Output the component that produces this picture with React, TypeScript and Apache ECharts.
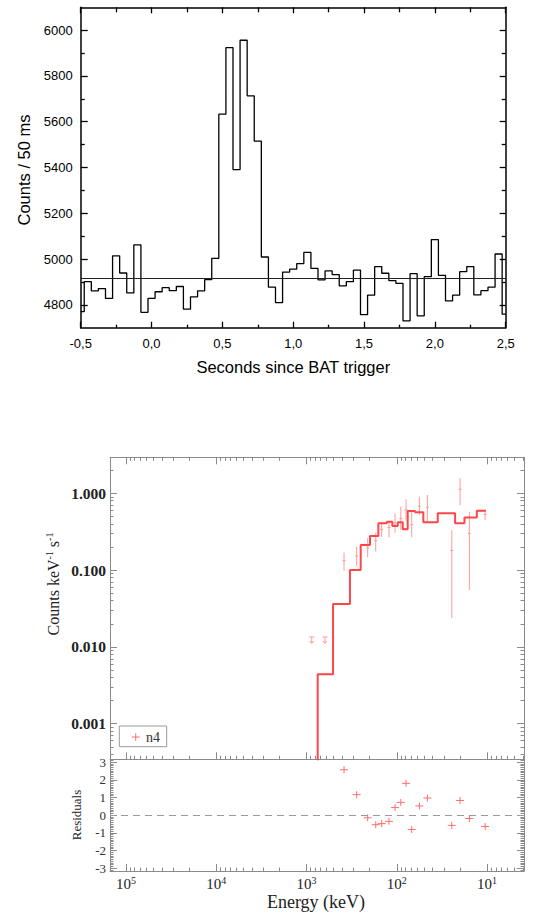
import React, { useEffect, useRef } from 'react';
import * as echarts from 'echarts';

// ---------------- Top panel: BAT light curve ----------------
const T_MIN = -0.5;
const T_MAX = 2.5;
const BIN_START = -0.475; // first full 50 ms bin
const BIN_WIDTH = 0.05;
// counts per 50 ms, first entry is the partial bin [-0.5, -0.475], last is [2.475, 2.5]
const COUNTS = [
  4770, 4901, 4861, 4871, 4828, 5014, 4939, 4852, 5062, 4767,
  4828, 4857, 4875, 4862, 4880, 4781, 4835, 4861, 4910, 5003,
  5633, 5924, 5391, 5956, 5713, 5515, 5009, 4877, 4810, 4943,
  4956, 4980, 5029, 4959, 4909, 4948, 4932, 4883, 4901, 4952,
  4757, 4842, 4967, 4938, 4906, 4894, 4730, 4936, 4752, 4923,
  5085, 4929, 4817, 4842, 4945, 4967, 4843, 4862, 4877, 5022,
  4759,
];
const BACKGROUND_LEVEL = 4915;
const LC_Y_MIN = 4700;
const LC_Y_MAX = 6100;
const LC_X_TICKS = [-0.5, 0, 0.5, 1, 1.5, 2, 2.5];
const LC_X_MINOR = [-0.25, 0.25, 0.75, 1.25, 1.75, 2.25];
const LC_Y_TICKS = [4800, 5000, 5200, 5400, 5600, 5800, 6000];
const LC_Y_MINOR = [4900, 5100, 5300, 5500, 5700, 5900];

// ---------------- Bottom panel: spectrum (keV, counts/keV/s) ----------------
const E_MIN = 3.9;
const E_MAX = 150000;
const RATE_MIN = 0.000344;
const RATE_MAX = 2.94;
const RES_MIN = -3.16;
const RES_MAX = 3.16;
const E_DECADES = [1, 2, 3, 4, 5];
const RATE_DECADES = [-3, -2, -1, 0];
const RES_TICKS = [-3, -2, -1, 0, 1, 2, 3];

// model (step) : bin edges from high to low energy, and rate in each bin
const MODEL_EDGES = [1000, 751, 508, 330, 251, 198, 160, 129, 112, 97.5, 85.9, 75.7, 62.8, 50.8, 35.2, 22.6, 17.8, 13.0, 10.3];
const MODEL_RATE = [0.00001, 0.0044, 0.0362, 0.100, 0.212, 0.278, 0.407, 0.427, 0.375, 0.419, 0.340, 0.589, 0.565, 0.419, 0.548, 0.407, 0.482, 0.594];

// data points
const PT_ENERGY = [384, 278, 210, 171, 147, 122, 104.5, 90.3, 79, 68.3, 56.2, 45.8, 24.6, 19.9, 15.7, 10.5];
const PT_RATE = [0.133, 0.153, 0.194, 0.241, 0.34, 0.36, 0.41, 0.47, 0.61, 0.39, 0.68, 0.66, 0.18, 1.13, 0.30, 0.53];
const PT_LOW = [0.098, 0.113, 0.147, 0.174, 0.272, 0.267, 0.307, 0.333, 0.44, 0.267, 0.52, 0.427, 0.0237, 0.70, 0.055, 0.45];
const PT_HIGH = [0.169, 0.202, 0.26, 0.307, 0.427, 0.427, 0.548, 0.67, 0.835, 0.576, 0.90, 0.95, 0.333, 1.57, 0.576, 0.61];
const RESIDUALS = [2.57, 1.16, -0.15, -0.54, -0.48, -0.35, 0.43, 0.72, 1.8, -0.81, 0.52, 0.97, -0.58, 0.83, -0.19, -0.64];
// upper limits
const UL_ENERGY = [875, 623];
const UL_RATE = [0.0123, 0.0123];

const SANS = "'Liberation Sans', Arial, sans-serif";
const SERIF = "'Liberation Serif', 'Times New Roman', serif";
const FRAME = '#8a8a8a';
const MODEL_COLOR = '#ff4646';
const DATA_COLOR = '#ff9a9a';
const RES_COLOR = '#ff6e6e';

const lg = (v: number) => Math.log10(v);

function minorLog(lo: number, hi: number, d0: number, d1: number) {
  const out: number[] = [];
  for (let d = d0; d <= d1; d++) {
    for (let k = 2; k <= 9; k++) {
      const v = lg(k * Math.pow(10, d));
      if (v > lo && v < hi) out.push(v);
    }
  }
  return out;
}

function axis(c: any) {
  return {
    type: 'value',
    gridIndex: c.grid,
    position: c.pos,
    min: c.min,
    max: c.max,
    inverse: !!c.inverse,
    axisLine: { show: !!c.line, onZero: false, lineStyle: { color: c.color, width: c.lineWidth ?? 1 } },
    axisTick: {
      show: true,
      inside: true,
      length: c.tickLen,
      customValues: c.ticks,
      lineStyle: { color: c.color, width: c.tickWidth ?? 1 },
    },
    axisLabel: c.labels
      ? {
          show: true,
          customValues: c.labels,
          formatter: c.fmt,
          showMinLabel: true,
          showMaxLabel: true,
          ...c.labelStyle,
        }
      : { show: false },
    splitLine: { show: false },
    minorTick: { show: false },
    minorSplitLine: { show: false },
  };
}

export default function App() {
  const ref = useRef<HTMLDivElement>(null);

  useEffect(() => {
    if (!ref.current) return;
    const chart = echarts.init(ref.current, undefined, { renderer: 'svg' });

    const lcEdges = COUNTS.map((_, i) => (i === 0 ? T_MIN : BIN_START + (i - 1) * BIN_WIDTH));
    const lcData = COUNTS.map((c, i) => [lcEdges[i], c]);
    lcData.push([T_MAX, COUNTS[COUNTS.length - 1]]);

    const xLo = lg(E_MIN);
    const xHi = lg(E_MAX);
    const yLo = lg(RATE_MIN);
    const yHi = lg(RATE_MAX);
    const eMinor = minorLog(xLo, xHi, 0, 5);
    const rMinor = minorLog(yLo, yHi, -4, 0);
    const resMinor: number[] = [];
    for (let k = -31; k <= 31; k++) if (k % 10 !== 0) resMinor.push(k / 10);

    const lcLabel = { fontFamily: SANS, fontSize: 13, color: '#000' };
    const spX = { grid: 1, min: xLo, max: xHi, inverse: true, color: FRAME };
    const spY = { grid: 1, min: yLo, max: yHi, color: FRAME };
    const rsX = { grid: 2, min: xLo, max: xHi, inverse: true, color: FRAME };
    const rsY = { grid: 2, min: RES_MIN, max: RES_MAX, color: FRAME };

    const xAxes = [
      // grid 0
      axis({ grid: 0, pos: 'bottom', min: T_MIN, max: T_MAX, color: '#000', line: true, lineWidth: 1.5, ticks: LC_X_TICKS, tickLen: 6, tickWidth: 1.3,
        labels: LC_X_TICKS, fmt: (v: number) => v.toFixed(1).replace('.', ','), labelStyle: { ...lcLabel, margin: 9 } }),
      axis({ grid: 0, pos: 'bottom', min: T_MIN, max: T_MAX, color: '#000', ticks: LC_X_MINOR, tickLen: 3, tickWidth: 1.3 }),
      axis({ grid: 0, pos: 'top', min: T_MIN, max: T_MAX, color: '#000', line: true, lineWidth: 1.5, ticks: LC_X_TICKS, tickLen: 6, tickWidth: 1.3 }),
      axis({ grid: 0, pos: 'top', min: T_MIN, max: T_MAX, color: '#000', ticks: LC_X_MINOR, tickLen: 5, tickWidth: 1.3 }),
      // grid 1
      axis({ ...spX, pos: 'top', line: true, ticks: E_DECADES, tickLen: 7 }),
      axis({ ...spX, pos: 'top', ticks: eMinor, tickLen: 3.5 }),
      axis({ ...spX, pos: 'bottom', line: true, ticks: E_DECADES, tickLen: 7 }),
      axis({ ...spX, pos: 'bottom', ticks: eMinor, tickLen: 3.5 }),
      // grid 2
      axis({ ...rsX, pos: 'bottom', line: true, ticks: E_DECADES, tickLen: 7, labels: E_DECADES,
        fmt: (v: number) => '10{sup|' + Math.round(v) + '}',
        labelStyle: {
          fontFamily: SERIF, fontSize: 15, color: '#222', margin: 4,
          rich: { sup: { fontFamily: SERIF, fontSize: 10, color: '#222', verticalAlign: 'top', padding: [0, 0, 8, 0] } },
        } }),
      axis({ ...rsX, pos: 'bottom', ticks: eMinor, tickLen: 3.5 }),
    ];

    const yAxes = [
      // grid 0
      axis({ grid: 0, pos: 'left', min: LC_Y_MIN, max: LC_Y_MAX, color: '#000', line: true, lineWidth: 1.5, ticks: LC_Y_TICKS, tickLen: 7, tickWidth: 1.3,
        labels: LC_Y_TICKS, fmt: (v: number) => String(v), labelStyle: { ...lcLabel, margin: 8 } }),
      axis({ grid: 0, pos: 'left', min: LC_Y_MIN, max: LC_Y_MAX, color: '#000', ticks: LC_Y_MINOR, tickLen: 4, tickWidth: 1.3 }),
      axis({ grid: 0, pos: 'right', min: LC_Y_MIN, max: LC_Y_MAX, color: '#000', line: true, lineWidth: 1.5, ticks: LC_Y_TICKS, tickLen: 6, tickWidth: 1.3 }),
      axis({ grid: 0, pos: 'right', min: LC_Y_MIN, max: LC_Y_MAX, color: '#000', ticks: LC_Y_MINOR, tickLen: 4, tickWidth: 1.3 }),
      // grid 1
      axis({ ...spY, pos: 'left', line: true, ticks: RATE_DECADES, tickLen: 7, labels: RATE_DECADES,
        fmt: (v: number) => Math.pow(10, v).toFixed(3),
        labelStyle: { fontFamily: SERIF, fontSize: 15.5, fontWeight: 'bold', color: '#222', margin: 4 } }),
      axis({ ...spY, pos: 'left', ticks: rMinor, tickLen: 3.5 }),
      axis({ ...spY, pos: 'right', line: true, ticks: RATE_DECADES, tickLen: 7 }),
      axis({ ...spY, pos: 'right', ticks: rMinor, tickLen: 3.5 }),
      // grid 2
      axis({ ...rsY, pos: 'left', line: true, ticks: RES_TICKS, tickLen: 7, labels: RES_TICKS,
        fmt: (v: number) => String(v),
        labelStyle: { fontFamily: SERIF, fontSize: 13, color: '#333', margin: 4 } }),
      axis({ ...rsY, pos: 'left', ticks: resMinor, tickLen: 3.5 }),
      axis({ ...rsY, pos: 'right', line: true, ticks: RES_TICKS, tickLen: 7 }),
      axis({ ...rsY, pos: 'right', ticks: resMinor, tickLen: 3.5 }),
    ];

    const option: any = {
      animation: false,
      backgroundColor: '#fff',
      grid: [
        { left: 80.7, top: 7.3, width: 425, height: 320.4, show: false, outerBoundsMode: 'none' },
        { left: 110, top: 457.3, width: 414, height: 302, show: false, outerBoundsMode: 'none' },
        { left: 110, top: 759.3, width: 414, height: 111.7, show: false, outerBoundsMode: 'none' },
      ],
      xAxis: xAxes,
      yAxis: yAxes,
      series: [
        {
          type: 'line',
          xAxisIndex: 0,
          yAxisIndex: 0,
          data: lcData,
          step: 'end',
          symbol: 'none',
          lineStyle: { color: '#000', width: 1.3 },
          markLine: {
            silent: true,
            symbol: 'none',
            label: { show: false },
            lineStyle: { color: '#222', width: 1.1, type: 'solid' },
            data: [{ yAxis: BACKGROUND_LEVEL }],
          },
        },
        {
          type: 'line',
          xAxisIndex: 4,
          yAxisIndex: 4,
          data: MODEL_EDGES.map((e, i) => [lg(e), lg(MODEL_RATE[Math.min(i, MODEL_RATE.length - 1)])]),
          step: 'end',
          symbol: 'none',
          clip: true,
          lineStyle: { color: MODEL_COLOR, width: 2 },
        },
        {
          type: 'custom',
          xAxisIndex: 4,
          yAxisIndex: 4,
          clip: true,
          data: PT_ENERGY.map((e, i) => [lg(e), lg(PT_RATE[i]), lg(PT_LOW[i]), lg(PT_HIGH[i])]),
          encode: { x: 0, y: 1 },
          renderItem: (_p: any, api: any) => {
            const c = api.coord([api.value(0), api.value(1)]);
            const lo = api.coord([api.value(0), api.value(2)]);
            const hi = api.coord([api.value(0), api.value(3)]);
            const st = { stroke: DATA_COLOR, lineWidth: 1, fill: null };
            return {
              type: 'group',
              children: [
                { type: 'line', shape: { x1: lo[0], y1: lo[1], x2: hi[0], y2: hi[1] }, style: st },
                { type: 'line', shape: { x1: c[0] - 1.5, y1: c[1], x2: c[0] + 1.5, y2: c[1] }, style: st },
              ],
            };
          },
        },
        {
          type: 'custom',
          xAxisIndex: 4,
          yAxisIndex: 4,
          clip: true,
          data: UL_ENERGY.map((e, i) => [lg(e), lg(UL_RATE[i])]),
          encode: { x: 0, y: 1 },
          renderItem: (_p: any, api: any) => {
            const c = api.coord([api.value(0), api.value(1)]);
            const st = { stroke: DATA_COLOR, lineWidth: 1, fill: null };
            return {
              type: 'group',
              children: [
                { type: 'line', shape: { x1: c[0] - 2.5, y1: c[1] - 3, x2: c[0] + 2.5, y2: c[1] - 3 }, style: st },
                { type: 'line', shape: { x1: c[0], y1: c[1] - 3, x2: c[0], y2: c[1] + 3 }, style: st },
                { type: 'polyline', shape: { points: [[c[0] - 2, c[1] + 1], [c[0], c[1] + 3.5], [c[0] + 2, c[1] + 1]] }, style: st },
              ],
            };
          },
        },
        {
          type: 'custom',
          xAxisIndex: 8,
          yAxisIndex: 8,
          clip: true,
          data: PT_ENERGY.map((e, i) => [lg(e), RESIDUALS[i]]),
          encode: { x: 0, y: 1 },
          renderItem: (_p: any, api: any) => {
            const c = api.coord([api.value(0), api.value(1)]);
            const st = { stroke: RES_COLOR, lineWidth: 1, fill: null };
            return {
              type: 'group',
              children: [
                { type: 'line', shape: { x1: c[0] - 4, y1: c[1], x2: c[0] + 4, y2: c[1] }, style: st },
                { type: 'line', shape: { x1: c[0], y1: c[1] - 3.5, x2: c[0], y2: c[1] + 3.5 }, style: st },
              ],
            };
          },
          markLine: {
            silent: true,
            symbol: 'none',
            label: { show: false },
            lineStyle: { color: '#9a9a9a', width: 1, type: [7, 5] },
            data: [{ yAxis: 0 }],
          },
        },
      ],
      graphic: [
        {
          type: 'text', x: 24, y: 170, rotation: Math.PI / 2,
          style: { text: 'Counts / 50 ms', font: `16.5px ${SANS}`, fill: '#000', textAlign: 'center', textVerticalAlign: 'middle' },
        },
        {
          type: 'text', x: 293.3, y: 366.7,
          style: { text: 'Seconds since BAT trigger', font: `16.5px ${SANS}`, fill: '#000', textAlign: 'center', textVerticalAlign: 'middle' },
        },
        {
          type: 'text', x: 53.5, y: 584, rotation: Math.PI / 2,
          style: {
            text: 'Counts keV{s|-1} s{s|-1}', font: `16px ${SERIF}`, fill: '#222', textAlign: 'center', textVerticalAlign: 'middle',
            rich: { s: { fontSize: 10, fontFamily: SERIF, fill: '#222', verticalAlign: 'top', padding: [0, 0, 8, 0] } },
          },
        },
        {
          type: 'text', x: 76.7, y: 815, rotation: Math.PI / 2,
          style: { text: 'Residuals', font: `13px ${SERIF}`, fill: '#222', textAlign: 'center', textVerticalAlign: 'middle' },
        },
        {
          type: 'text', x: 316, y: 902,
          style: { text: 'Energy (keV)', font: `18px ${SERIF}`, fill: '#222', textAlign: 'center', textVerticalAlign: 'middle' },
        },
        {
          type: 'rect', shape: { x: 119.3, y: 726, width: 47.4, height: 20.7 },
          style: { fill: '#fff', stroke: '#9a9a9a', lineWidth: 1 },
        },
        { type: 'line', shape: { x1: 131.7, y1: 737, x2: 139.7, y2: 737 }, style: { stroke: RES_COLOR, lineWidth: 1 } },
        { type: 'line', shape: { x1: 135.7, y1: 733.3, x2: 135.7, y2: 740.7 }, style: { stroke: RES_COLOR, lineWidth: 1 } },
        {
          type: 'text', x: 146, y: 737,
          style: { text: 'n4', font: `14px ${SERIF}`, fill: '#333', textAlign: 'left', textVerticalAlign: 'middle' },
        },
      ],
    };

    chart.setOption(option);
    return () => chart.dispose();
  }, []);

  return (
    <div
      ref={ref}
      style={{ position: 'absolute', left: 0, top: 0, width: 535, height: 913, background: '#fff' }}
    />
  );
}
